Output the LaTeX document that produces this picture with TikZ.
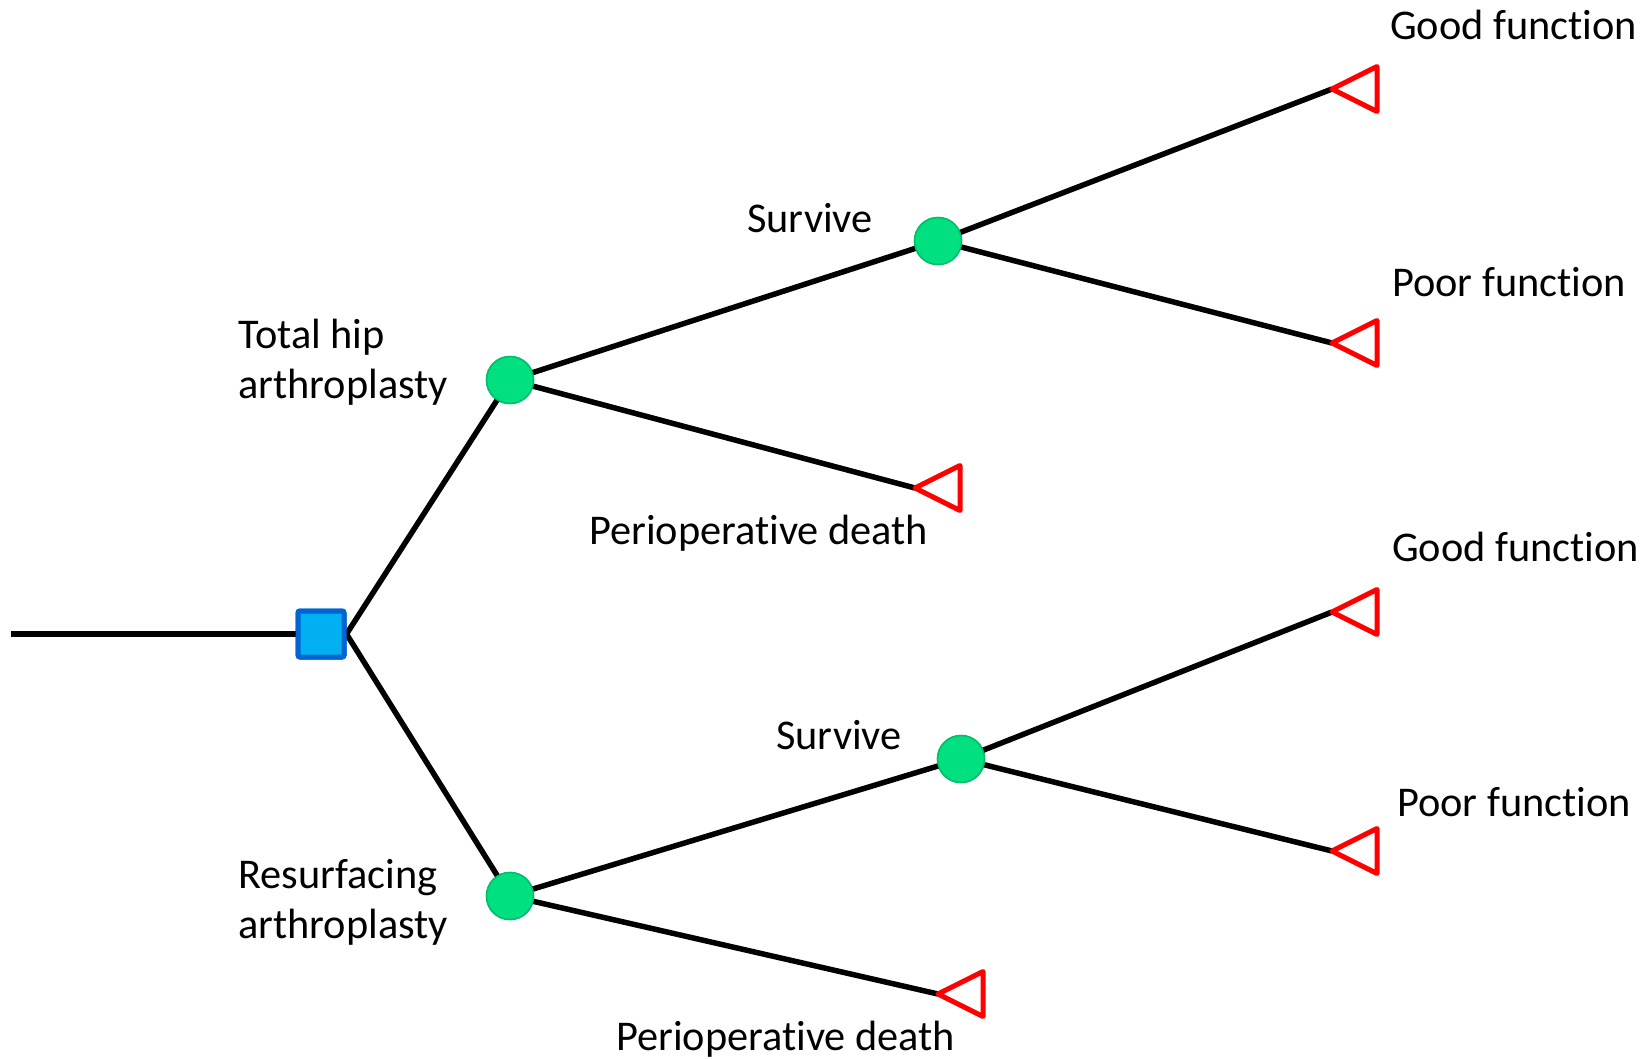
\documentclass[tikz,border=0pt]{standalone}
\usepackage{fontspec}
\setmainfont{Carlito}[Ligatures=NoCommon]
\definecolor{sqfill}{RGB}{0,176,240}
\definecolor{sqdraw}{RGB}{0,100,210}
\definecolor{chfill}{RGB}{0,224,128}
\definecolor{chdraw}{RGB}{0,190,105}
\definecolor{tired}{RGB}{255,0,0}
\begin{document}
\begin{tikzpicture}[x=1bp,y=-1bp,
  branch/.style={line width=5.5bp,black},
  decision/.style={rectangle,fill=sqfill,draw=sqdraw,line width=5bp,minimum size=46bp,inner sep=0pt,rounded corners=2bp},
  chance/.style={circle,fill=chfill,draw=chdraw,line width=1.5bp,minimum size=47bp,inner sep=0pt},
  terminal/.style={draw=tired,fill=white,line width=5bp,line join=round},
  lbl/.style={font=\fontsize{42.5}{50}\selectfont,anchor=base west,inner sep=0pt,align=left}]
\useasboundingbox (0,0) rectangle (1651,1058);
% nodes
\coordinate (start) at (11,634);
\node[decision] (d) at (321,634) {};
\node[chance] (c1) at (510,380) {};
\node[chance] (c2) at (510,896) {};
\node[chance] (c3) at (938,241) {};
\node[chance] (c4) at (961,759) {};
\coordinate (t1) at (1332,89);
\coordinate (t2) at (1332,343);
\coordinate (t3) at (915,488);
\coordinate (t4) at (1332,612);
\coordinate (t5) at (1332,851);
\coordinate (t6) at (938,994);
% connectors
\draw[branch] (start) -- (d.west);
\draw[branch] (d.east) -- (c1.center);
\draw[branch] (d.east) -- (c2.center);
\draw[branch] (c1.center) -- (c3.center);
\draw[branch] (c1.center) -- (t3);
\draw[branch] (c3.center) -- (t1);
\draw[branch] (c3.center) -- (t2);
\draw[branch] (c2.center) -- (c4.center);
\draw[branch] (c2.center) -- (t6);
\draw[branch] (c4.center) -- (t4);
\draw[branch] (c4.center) -- (t5);
% redraw nodes on top
\node[decision] at (d) {};
\node[chance] at (c1) {};
\node[chance] at (c2) {};
\node[chance] at (c3) {};
\node[chance] at (c4) {};
% terminal triangles
\foreach \t in {t1,t2,t3,t4,t5,t6}{
  \draw[terminal] (\t) -- ++(45,-22.5) -- ++(0,45) -- cycle;
}
% labels
\node[lbl] (l1) at (1390,39) {Good function};
\node[lbl] (l2) at (747,232) {Survive};
\node[lbl] (l3) at (1392,296) {Poor function};
\node[lbl] (l4) at (238,398) {Total hip\\arthroplasty};
\node[lbl] (l5) at (589,544) {Perioperative death};
\node[lbl] (l6) at (1392,561) {Good function};
\node[lbl] (l7) at (776,749) {Survive};
\node[lbl] (l8) at (1397,816) {Poor function};
\node[lbl] (l9) at (238,938) {Resurfacing\\arthroplasty};
\node[lbl] (l10) at (616,1050) {Perioperative death};
\end{tikzpicture}
\end{document}
